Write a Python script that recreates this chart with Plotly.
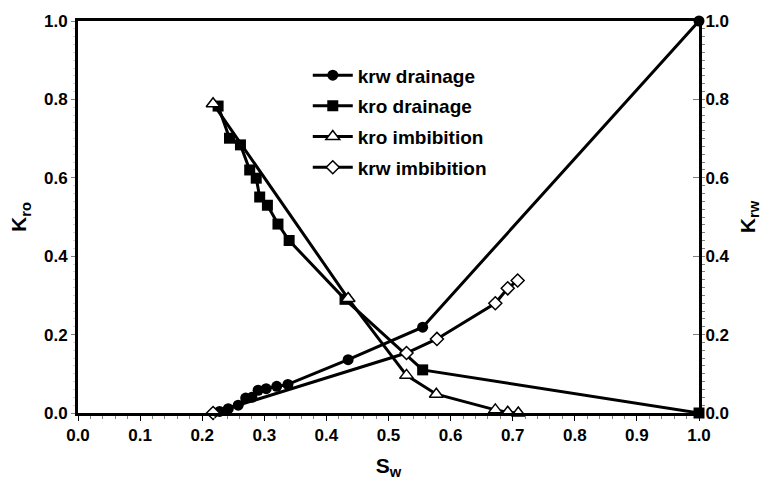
import plotly.graph_objects as go

# krw drainage (right axis)
sw_krw_dr = [0.228, 0.242, 0.258, 0.270, 0.280, 0.290, 0.303, 0.320, 0.338, 0.435, 0.555, 1.0]
krw_dr = [0.004, 0.011, 0.020, 0.038, 0.040, 0.058, 0.062, 0.068, 0.073, 0.136, 0.219, 1.0]

# kro drainage (left axis)
sw_kro_dr = [0.2256, 0.244, 0.2616, 0.2765, 0.287, 0.2926, 0.305, 0.322, 0.340, 0.430, 0.555, 1.0]
kro_dr = [0.783, 0.701, 0.684, 0.620, 0.599, 0.551, 0.530, 0.482, 0.440, 0.290, 0.110, 0.0]

# kro imbibition (left axis)
sw_kro_im = [0.2175, 0.435, 0.529, 0.577, 0.672, 0.692, 0.709]
kro_im = [0.789, 0.292, 0.096, 0.048, 0.008, 0.002, 0.0]

# krw imbibition (right axis)
sw_krw_im = [0.2175, 0.529, 0.578, 0.672, 0.692, 0.708]
krw_im = [0.0, 0.153, 0.189, 0.280, 0.318, 0.338]

x_ticks = [0.0, 0.1, 0.2, 0.3, 0.4, 0.5, 0.6, 0.7, 0.8, 0.9, 1.0]

FONT = "Arial, Liberation Sans, sans-serif"
line = dict(color="black", width=3)

fig = go.Figure()
fig.add_trace(go.Scatter(x=sw_krw_dr, y=krw_dr, name="krw drainage", yaxis="y2",
                         mode="lines+markers", line=line, legendgroup="a", cliponaxis=False,
                         marker=dict(symbol="circle", size=11, color="black")))
fig.add_trace(go.Scatter(x=sw_kro_dr, y=kro_dr, name="kro drainage", yaxis="y",
                         mode="lines+markers", line=line, legendgroup="b", cliponaxis=False,
                         marker=dict(symbol="square", size=11, color="black")))
fig.add_trace(go.Scatter(x=sw_kro_im, y=kro_im, name="kro imbibition", yaxis="y",
                         mode="lines+markers", line=line, legendgroup="c", cliponaxis=False,
                         marker=dict(symbol="triangle-up", size=12, color="white",
                                     line=dict(color="black", width=1.5))))
fig.add_trace(go.Scatter(x=sw_krw_im, y=krw_im, name="krw imbibition", yaxis="y2",
                         mode="lines+markers", line=line, legendgroup="d", cliponaxis=False,
                         marker=dict(symbol="diamond", size=10, color="white",
                                     line=dict(color="black", width=1.5))))

tickfont = dict(family=FONT, size=17, color="black", weight="bold")
titlefont = dict(family=FONT, size=21, color="black", weight="bold")

fig.update_layout(
    width=768, height=486,
    margin=dict(l=78, r=68, t=19, b=71),
    paper_bgcolor="white", plot_bgcolor="white",
    showlegend=True,
    legend=dict(x=0.37, y=0.91, xanchor="left", yanchor="top",
                bgcolor="rgba(0,0,0,0)", traceorder="grouped", tracegroupgap=3,
                font=dict(family=FONT, size=19, color="black", weight="bold"),
                itemwidth=40),
    xaxis=dict(range=[0, 1], tickvals=x_ticks, tickformat=".1f",
               showgrid=False, zeroline=False,
               showline=True, linecolor="black", linewidth=3, mirror=True,
               ticks="outside", ticklen=5, tickcolor="black", tickwidth=1,
               minor=dict(dtick=0.02, ticks="outside", ticklen=3, tickcolor="gray"),
               tickfont=tickfont,
               title=dict(text="S<sub>w</sub>", font=titlefont, standoff=14)),
    yaxis=dict(range=[0, 1], dtick=0.2, tickformat=".1f",
               showgrid=False, zeroline=False,
               showline=True, linecolor="black", linewidth=3,
               ticks="outside", ticklen=4, tickcolor="gray", tickwidth=1,
               minor=dict(dtick=0.02, ticks="outside", ticklen=2, tickcolor="lightgray"),
               tickfont=tickfont,
               title=dict(text="K<sub>ro</sub>", font=titlefont, standoff=12)),
    yaxis2=dict(range=[0, 1], dtick=0.2, tickformat=".1f", overlaying="y", side="right",
                showgrid=False, zeroline=False,
                showline=True, linecolor="black", linewidth=3,
                ticks="inside", ticklen=6, tickcolor="gray", tickwidth=1,
                minor=dict(dtick=0.02, ticks="outside", ticklen=3, tickcolor="gray"),
                tickfont=tickfont,
                title=dict(text="K<sub>rw</sub>", font=titlefont, standoff=12)),
)

fig.write_html("out.html")
